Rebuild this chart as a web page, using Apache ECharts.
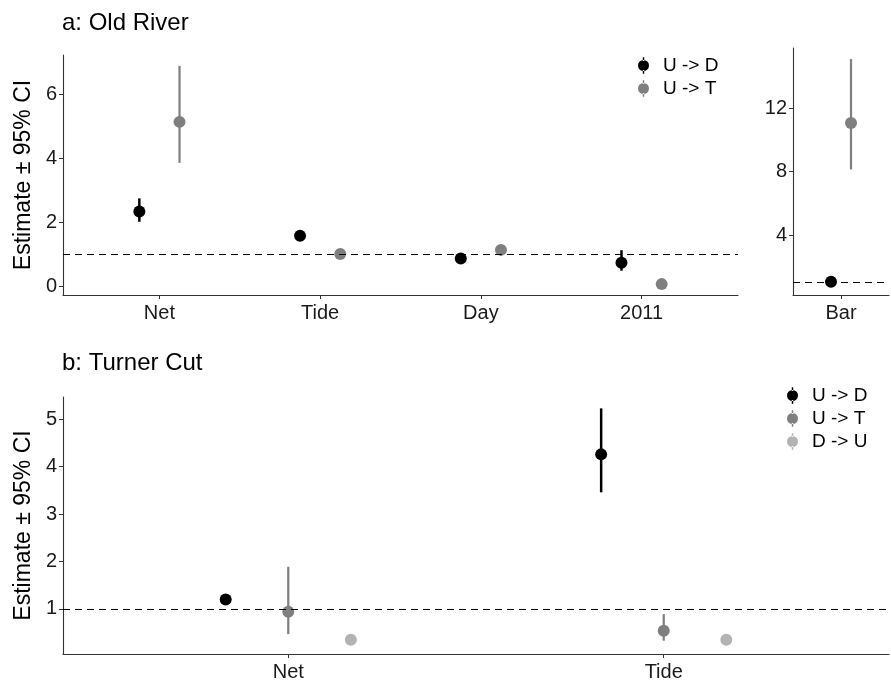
<!DOCTYPE html>
<html>
<head>
<meta charset="utf-8">
<script src="https://cdn.jsdelivr.net/npm/echarts@6/dist/echarts.min.js"></script>
<style>
  html, body { margin: 0; padding: 0; background: #fff; }
  #chart { width: 891px; height: 682px; }
</style>
</head>
<body>
<div id="chart"></div>
<script>
// panel a: Old River
var catsA = ['Net', 'Tide', 'Day', '2011'];
var aUD = [2.33, 1.57, 0.86, 0.73];
var aUDlo = [2.01, 1.50, 0.80, 0.48];
var aUDhi = [2.74, 1.64, 0.92, 1.12];
var aUT = [5.13, 1.0, 1.13, 0.06];
var aUTlo = [3.85, 0.95, 1.08, 0.03];
var aUThi = [6.88, 1.05, 1.18, 0.09];
var aTicks = [0, 2, 4, 6];

// panel a, separate "Bar" facet
var catsBar = ['Bar'];
var barUD = [1.06];
var barUDlo = [0.97];
var barUDhi = [1.15];
var barUT = [11.06];
var barUTlo = [8.13];
var barUThi = [15.08];
var barTicks = [4, 8, 12];

// panel b: Turner Cut
var catsB = ['Net', 'Tide'];
var bUD = [1.2, 4.26];
var bUDlo = [1.15, 3.46];
var bUDhi = [1.25, 5.23];
var bUT = [0.94, 0.54];
var bUTlo = [0.47, 0.33];
var bUThi = [1.89, 0.89];
var bDU = [0.35, 0.35];
var bDUlo = [0.33, 0.33];
var bDUhi = [0.37, 0.37];
var bTicks = [1, 2, 3, 4, 5];

var BLACK = '#000000', GREY = '#7f7f7f', LIGHT = '#b3b3b3';
var FONT = 'Liberation Sans, Arial, sans-serif';

// dodge: width 0.5 split among groups
function pts(vals, off) {
  return vals.map(function (v, i) { return [i + 1 + off, v]; });
}
function bars(lo, hi, off) {
  return lo.map(function (l, i) { return [i + 1 + off, l, hi[i]]; });
}

function errSeries(name, data, color, xi, w) {
  return {
    name: name, type: 'custom', xAxisIndex: xi, yAxisIndex: xi, z: 3, silent: true,
    data: data, itemStyle: { color: color },
    encode: { x: 0, y: [1, 2] },
    renderItem: function (params, api) {
      var p1 = api.coord([api.value(0), api.value(1)]);
      var p2 = api.coord([api.value(0), api.value(2)]);
      return { type: 'line', shape: { x1: p1[0], y1: p1[1], x2: p2[0], y2: p2[1] },
        style: { stroke: color, lineWidth: w } };
    }
  };
}
function ptSeries(name, data, color, xi) {
  return {
    name: name, type: 'scatter', xAxisIndex: xi, yAxisIndex: xi, z: 4,
    data: data, symbolSize: 12, itemStyle: { color: color, opacity: 1 }
  };
}
function refLine(xi) {
  return {
    type: 'line', xAxisIndex: xi, yAxisIndex: xi, data: [], silent: true,
    markLine: {
      silent: true, symbol: 'none', label: { show: false },
      lineStyle: { color: '#000', type: [7, 5], width: 1.2 },
      data: [{ yAxis: 1 }]
    }
  };
}

function xAxis(gi, cats, max) {
  return {
    type: 'value', gridIndex: gi, min: 0.4, max: max,
    splitLine: { show: false },
    axisLine: { onZero: false, lineStyle: { color: '#333', width: 1.1 } },
    axisTick: { show: true, length: 4, customValues: cats.map(function (c, i) { return i + 1; }),
      lineStyle: { color: '#333' } },
    axisLabel: { customValues: cats.map(function (c, i) { return i + 1; }),
      formatter: function (v) { return cats[Math.round(v) - 1]; },
      color: '#1a1a1a', fontSize: 20, fontFamily: FONT, margin: 8 }
  };
}
function yAxis(gi, min, max, ticks, name) {
  return {
    type: 'value', gridIndex: gi, min: min, max: max,
    name: name || '', nameLocation: 'middle', nameGap: 27,
    nameTextStyle: { fontSize: 23, color: '#000', fontFamily: FONT },
    splitLine: { show: false },
    axisLine: { show: true, onZero: false, lineStyle: { color: '#333', width: 1.1 } },
    axisTick: { show: true, length: 4, customValues: ticks, lineStyle: { color: '#333' } },
    axisLabel: { customValues: ticks, color: '#1a1a1a', fontSize: 20, fontFamily: FONT, margin: 6 }
  };
}

// point with a short vertical range line, as in the ggplot pointrange key
var icon = 'path://M5.2,0h1.6v4h-1.6z M6,3a6,6 0 1,0 0.001,0z M5.2,14h1.6v4h-1.6z';

var option = {
  backgroundColor: '#ffffff',
  animation: false,
  title: [
    { text: 'a: Old River', left: 57, top: 6, textStyle: { fontSize: 24, fontWeight: 'normal', color: '#000', fontFamily: FONT } },
    { text: 'b: Turner Cut', left: 57, top: 346, textStyle: { fontSize: 24, fontWeight: 'normal', color: '#000', fontFamily: FONT } }
  ],
  legend: [
    { data: ['U -> D', 'U -> T'], orient: 'vertical', left: 633, top: 51,
      icon: icon, itemWidth: 11, itemHeight: 17, itemGap: 4, selectedMode: false,
      textStyle: { fontSize: 19, color: '#000', fontFamily: FONT, padding: [0, 0, 0, 9] } },
    { data: ['U -> D', 'U -> T', 'D -> U'], orient: 'vertical', left: 782, top: 381,
      icon: icon, itemWidth: 11, itemHeight: 17, itemGap: 4, selectedMode: false,
      textStyle: { fontSize: 19, color: '#000', fontFamily: FONT, padding: [0, 0, 0, 9] } }
  ],
  grid: [
    { left: 63, top: 55, width: 675, height: 240 },
    { left: 793, top: 48, width: 96, height: 247 },
    { left: 63, top: 397, width: 826, height: 257 }
  ],
  xAxis: [
    xAxis(0, catsA, 4.6),
    xAxis(1, catsBar, 1.6),
    xAxis(2, catsB, 2.6)
  ],
  yAxis: [
    yAxis(0, -0.28, 7.22, aTicks, 'Estimate \u00b1 95% CI'),
    yAxis(1, 0.22, 15.78, barTicks),
    yAxis(2, 0.05, 5.47, bTicks, 'Estimate \u00b1 95% CI')
  ],
  series: [
    refLine(0), refLine(1), refLine(2),
    errSeries('U -> D', bars(aUDlo, aUDhi, -0.125), BLACK, 0, 2.5),
    ptSeries('U -> D', pts(aUD, -0.125), BLACK, 0),
    errSeries('U -> T', bars(aUTlo, aUThi, 0.125), GREY, 0, 2.2),
    ptSeries('U -> T', pts(aUT, 0.125), GREY, 0),
    errSeries('U -> D', bars(barUDlo, barUDhi, -0.125), BLACK, 1, 2.5),
    ptSeries('U -> D', pts(barUD, -0.125), BLACK, 1),
    errSeries('U -> T', bars(barUTlo, barUThi, 0.125), GREY, 1, 2.2),
    ptSeries('U -> T', pts(barUT, 0.125), GREY, 1),
    errSeries('U -> D', bars(bUDlo, bUDhi, -1 / 6), BLACK, 2, 2.5),
    ptSeries('U -> D', pts(bUD, -1 / 6), BLACK, 2),
    errSeries('U -> T', bars(bUTlo, bUThi, 0), GREY, 2, 2.2),
    ptSeries('U -> T', pts(bUT, 0), GREY, 2),
    errSeries('D -> U', bars(bDUlo, bDUhi, 1 / 6), LIGHT, 2, 2.2),
    ptSeries('D -> U', pts(bDU, 1 / 6), LIGHT, 2)
  ]
};

var myChart = echarts.init(document.getElementById('chart'));
myChart.setOption(option);
</script>
</body>
</html>
